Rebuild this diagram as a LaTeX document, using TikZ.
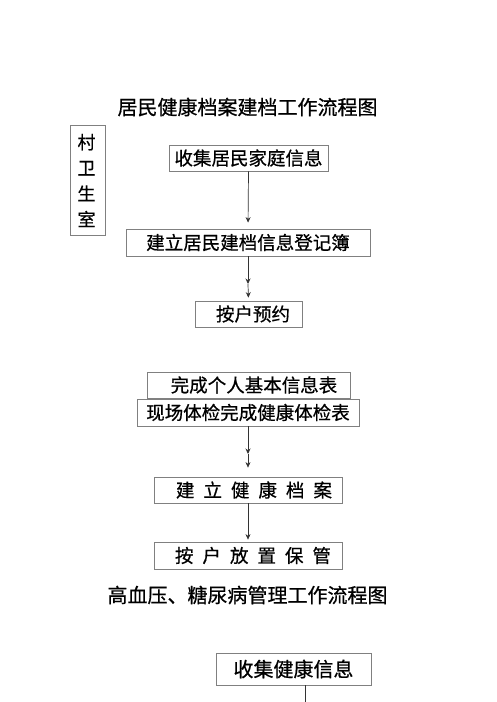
\documentclass[tikz,border=0pt]{standalone}
\usepackage{fontspec}
\setmainfont[FakeBold=0.6]{Noto Sans CJK SC}
\usetikzlibrary{arrows.meta}
\tikzset{
  flowbox/.style={draw=black!50, line width=0.8pt, rectangle, inner sep=0pt, anchor=center, font=\fontsize{18.5pt}{20pt}\selectfont},
  arr/.style={draw=black!80, line width=0.7pt, -{Stealth[length=5.5pt,width=5pt]}},
  plain/.style={draw=black!80, line width=0.7pt},
  ttl/.style={inner sep=0pt, font=\fontsize{20pt}{22pt}\selectfont}
}
\newcommand{\gp}{\hspace{9pt}}
\begin{document}
\begin{tikzpicture}
\useasboundingbox[fill=white] (0,0) rectangle (496pt,-702pt);
% title 1
\node[ttl] (t1) at (247.5pt,-107pt) {居民健康档案建档工作流程图};
% side box
\node[flowbox, minimum width=35pt, minimum height=110pt, font=\fontsize{18pt}{25.7pt}\selectfont, align=left] (side) at (88pt,-180.5pt) {\hspace{-3pt}村\\\hspace{-3pt}卫\\\hspace{-3pt}生\\\hspace{-3pt}室};
% boxes
\node[flowbox, minimum width=159pt, minimum height=26pt] (b1) at (248.5pt,-158pt) {收集居民家庭信息};
\node[flowbox, minimum width=244pt, minimum height=27pt] (b2) at (248pt,-242.5pt) {建立居民建档信息登记簿};
\node[flowbox, minimum width=107pt, minimum height=26pt] (b3) at (248.5pt,-314pt) {\hspace{9pt}按户预约};
\node[flowbox, minimum width=203pt, minimum height=26pt] (b4) at (248.5pt,-385pt) {\hspace{11pt}完成个人基本信息表};
\node[flowbox, minimum width=222pt, minimum height=27pt] (b5) at (248pt,-412.5pt) {现场体检完成健康体检表};
\node[flowbox, minimum width=188pt, minimum height=26pt] (b6) at (248pt,-490pt) {\hspace{12pt}建\gp 立\gp 健\gp 康\gp 档\gp 案};
\node[flowbox, minimum width=188pt, minimum height=27pt] (b7) at (248pt,-555.5pt) {\hspace{10pt}按\gp 户\gp 放\gp 置\gp 保\gp 管};
% title 2
\node[ttl] (t2) at (247.5pt,-595pt) {高血压、糖尿病管理工作流程图};
\node[flowbox, minimum width=155pt, minimum height=32pt, font=\fontsize{20pt}{22pt}\selectfont] (b8) at (293.5pt,-669pt) {收集健康信息};
% helper coordinates
\coordinate (m2) at (248pt,-284pt);
\coordinate (m5) at (248pt,-454pt);
\coordinate (e8) at (305pt,-702pt);
% connectors
\draw[arr, shorten >=6pt] (b1.south) -- (b2.north);
\draw[arr] (b2.south) -- (m2);
\draw[arr, shorten >=3pt] (m2) -- (b3.north);
\draw[arr] (b5.south) -- (m5);
\draw[arr, shorten >=9pt] (m5) -- (b6.north);
\draw[arr, shorten >=2pt] (b6.south) -- (b7.north);
\draw[plain] (b8.south -| e8) -- (e8);
\end{tikzpicture}
\end{document}
